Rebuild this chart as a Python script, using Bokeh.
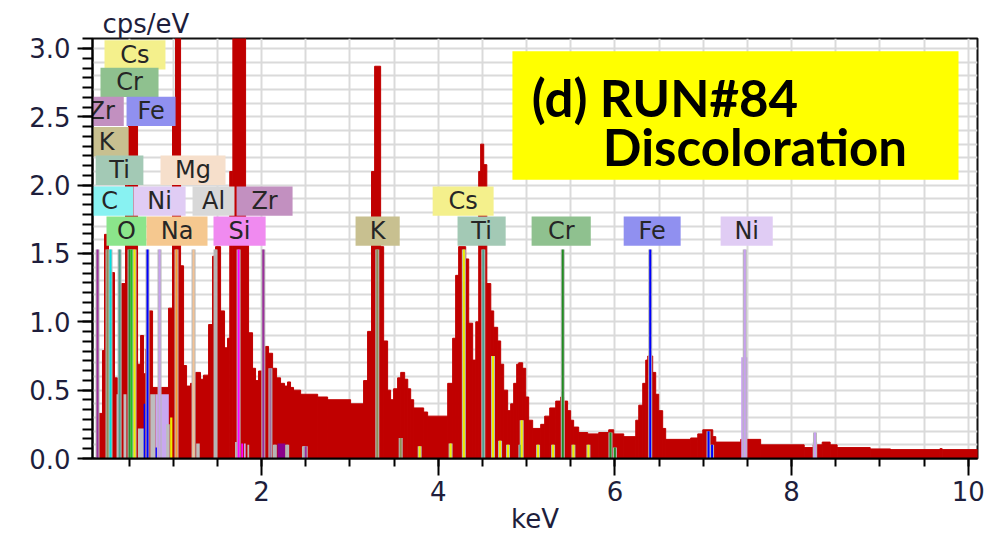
from bokeh.plotting import figure
from bokeh.models import Range1d, SingleIntervalTicker, PrintfTickFormatter
from bokeh.core.properties import value
from bokeh.embed import file_html
from bokeh.resources import INLINE

# ---------------- data ----------------
# EDS spectrum: bin left edges (keV) and intensity (cps/eV)
spec_kev = [0.086, 0.143, 0.199, 0.222, 0.267, 0.301, 0.335, 0.369, 0.414, 0.460,
            0.494, 0.596, 0.630, 0.664, 0.690, 0.720, 0.766, 0.947, 0.992, 1.026,
            1.083, 1.117, 1.151, 1.196, 1.253, 1.309, 1.343, 1.400, 1.445, 1.479,
            1.536, 1.581, 1.615, 1.640, 1.675, 1.819, 1.853, 1.898, 1.932, 1.966,
            2.045, 2.079, 2.125, 2.170, 2.215, 2.260, 2.294, 2.328, 2.362, 2.442,
            2.635, 2.748, 3.008, 3.155, 3.200, 3.245, 3.280, 3.348, 3.382, 3.427,
            3.461, 3.495, 3.540, 3.575, 3.620, 3.655, 3.688, 3.722, 3.835, 3.880,
            4.107, 4.163, 4.197, 4.231, 4.311, 4.345, 4.390, 4.425, 4.458, 4.480,
            4.515, 4.550, 4.595, 4.628, 4.673, 4.707, 4.741, 4.786, 4.820, 4.854,
            4.888, 4.911, 4.956, 4.990, 5.024, 5.069, 5.160, 5.205, 5.262, 5.330,
            5.386, 5.420, 5.465, 5.499, 5.533, 5.590, 5.692, 5.817, 5.930, 5.987,
            6.100, 6.236, 6.270, 6.315, 6.349, 6.372, 6.428, 6.462, 6.496, 6.541,
            6.575, 6.858, 6.938, 6.995, 7.108, 7.142, 7.425, 7.650, 8.143, 8.245,
            8.347, 8.437, 8.516, 8.890, 9.120, 9.680, 9.705]
spec_cps = [0.0, 0.33, 0.79, 1.64, 1.50, 1.36, 0.59, 0.47, 1.28, 2.00,
            2.60, 0.69, 0.90, 0.62, 0.80, 1.08, 0.52, 1.10, 2.50, 3.50,
            1.41, 0.68, 0.53, 0.55, 0.63, 0.58, 0.61, 0.98, 1.48, 1.55,
            1.08, 0.81, 0.88, 2.10, 4.00, 1.60, 0.92, 0.66, 0.57, 0.64,
            0.82, 0.77, 0.66, 0.59, 0.55, 0.53, 0.56, 0.52, 0.50, 0.47,
            0.45, 0.43, 0.40, 0.57, 0.93, 2.10, 2.87, 1.55, 0.86, 0.50,
            0.43, 0.51, 0.59, 0.63, 0.58, 0.51, 0.43, 0.37, 0.34, 0.31,
            0.55, 0.88, 1.34, 1.55, 1.46, 0.99, 0.72, 1.00, 2.10, 2.30,
            2.15, 1.28, 1.08, 0.96, 0.86, 0.69, 0.50, 0.35, 0.40, 0.55,
            0.69, 0.70, 0.66, 0.45, 0.28, 0.22, 0.25, 0.31, 0.37, 0.42,
            0.45, 0.42, 0.35, 0.28, 0.23, 0.19, 0.18, 0.19, 0.21, 0.18,
            0.16, 0.28, 0.39, 0.55, 0.72, 0.75, 0.63, 0.47, 0.35, 0.22,
            0.14, 0.15, 0.18, 0.21, 0.16, 0.12, 0.14, 0.10, 0.08, 0.10,
            0.12, 0.10, 0.08, 0.07, 0.065, 0.072, 0.065]
spec_end_kev = 10.105

# element line markers (full height)
marker_kev = [0.143, 0.256, 0.290, 0.393, 0.505, 0.528, 0.562, 0.709, 0.845, 1.037,
              1.230, 1.479, 1.740, 2.020, 3.310, 4.290, 4.510, 5.410, 6.400, 7.470]
marker_color = ["#9b2f9b", "#8f8f55", "#00e0e0", "#4f9f8c", "#2e8b2e", "#22c322", "#eeee00",
                "#0000ff", "#c8a0f0", "#ff9a30", "#f3c396", "#b4b4b4", "#ff00ff", "#9b2f9b",
                "#8f8f55", "#eeee00", "#4f9f8c", "#228b22", "#0000ff", "#c8a0f0"]
marker_height = 1.53

# minor element lines
minor_kev = [2.100, 2.150, 2.290, 2.480, 2.500, 3.575, 3.790, 4.140, 4.620, 4.700,
             4.790, 4.930, 4.945, 5.130, 5.300, 5.530, 5.700, 5.950, 6.000, 7.060,
             7.100, 8.265]
minor_height = [0.66, 0.10, 0.10, 0.09, 0.09, 0.15, 0.09, 0.11, 0.75, 0.13,
                0.10, 0.10, 0.28, 0.10, 0.10, 0.10, 0.10, 0.19, 0.08, 0.20,
                0.10, 0.19]
minor_color = ["#a070a0", "#b4b4b4", "#b4b4b4", "#b4b4b4", "#9b2f9b", "#8f8f55", "#eeee00",
               "#eeee00", "#eeee00", "#eeee00", "#eeee00", "#4f9f8c", "#eeee00", "#eeee00",
               "#eeee00", "#eeee00", "#eeee00", "#228b22", "#228b22", "#0000ff", "#0000ff",
               "#c8a0f0"]

# fitted peak overlays (low-energy deconvolution blocks)
ov_left = [0.358, 0.437, 0.600, 0.665, 0.740, 0.800, 0.800, 0.920, 0.965, 1.260,
           1.700, 1.770, 1.800, 1.840, 2.180, 7.430, 8.240]
ov_right = [0.403, 0.470, 0.680, 0.685, 0.800, 0.950, 0.815, 0.960, 0.990, 1.300,
            1.720, 1.790, 1.820, 1.860, 2.270, 7.500, 8.290]
ov_top = [0.47, 0.47, 0.22, 0.40, 0.47, 0.47, 0.08, 0.25, 0.30, 0.11,
          0.12, 0.11, 0.11, 0.10, 0.11, 0.74, 0.12]
ov_color = ["#bdbdbd", "#bdbdbd", "#bdbdbd", "#0000ff", "#bdbdbd", "#c8a8f0", "#0000ff",
            "#bdbdbd", "#eeee00", "#bdbdbd", "#bdbdbd", "#ff00ff", "#c8a0f0", "#bdbdbd",
            "#8b008b", "#c8a0f0", "#c8a0f0"]

# element tag boxes
tag_text = ["Cs", "Cr", "Zr", "Fe", "K", "Ti", "Mg", "C", "Ni", "Al", "Zr", "O", "Na", "Si",
            "K", "Cs", "Ti", "Cr", "Fe", "Ni"]
tag_kev = [0.567, 0.505, 0.190, 0.749, 0.245, 0.392, 1.224, 0.279, 0.845, 1.456, 2.034,
           0.471, 1.043, 1.751, 3.314, 4.282, 4.491, 5.392, 6.422, 7.492]
tag_cps = [2.953, 2.752, 2.540, 2.540, 2.318, 2.109, 2.109, 1.883, 1.883, 1.883, 1.883,
           1.664, 1.664, 1.664, 1.664, 1.883, 1.664, 1.664, 1.664, 1.664]
tag_width = [0.69, 0.657, 0.50, 0.555, 0.50, 0.54, 0.736, 0.54, 0.59, 0.475, 0.634,
             0.453, 0.69, 0.59, 0.50, 0.69, 0.545, 0.67, 0.645, 0.59]
tag_color = ["#f4f08c", "#8fc18f", "#c290c0", "#9090f0", "#c8c090", "#a3c9b5", "#f6dfcb",
             "#88f2f2", "#e0ccf4", "#d8d8d8", "#c290c0", "#8be58b", "#f5c88f", "#f08af0",
             "#c8c090", "#f4f08c", "#a3c9b5", "#8fc18f", "#9090f0", "#e0ccf4"]

title_lines = ["(d) RUN#84", "Discoloration"]
title_kev = [5.06, 5.863]
title_cps = [2.641, 2.286]

# ---------------- figure ----------------
p = figure(width=998, height=540, x_range=Range1d(0.086, 10.105), y_range=Range1d(0, 3.073),
           output_backend="svg", toolbar_location=None, title="cps/eV",
           min_border_left=92, min_border_right=21, min_border_top=38, min_border_bottom=82)
p.background_fill_color = "white"
p.border_fill_color = "white"
p.outline_line_color = "#111111"
p.outline_line_width = 2

p.title.align = "left"
p.title.offset = 10
p.title.standoff = 0
p.title.text_font = "DejaVu Sans"
p.title.text_font_size = "26px"
p.title.text_font_style = "normal"
p.title.text_color = "#1e1e3c"

p.xgrid.ticker = SingleIntervalTicker(interval=0.5)
p.ygrid.ticker = SingleIntervalTicker(interval=0.1)
for g in (p.xgrid, p.ygrid):
    g.grid_line_color = "#dadada"
    g.grid_line_width = 2

p.xaxis.ticker = SingleIntervalTicker(interval=2, num_minor_ticks=4)
p.yaxis.ticker = SingleIntervalTicker(interval=0.5, num_minor_ticks=7)
p.yaxis.formatter = PrintfTickFormatter(format="%.1f")
for ax in (p.xaxis, p.yaxis):
    ax.axis_line_color = "black"
    ax.axis_line_width = 2
    ax.major_tick_line_color = "black"
    ax.major_tick_line_width = 2
    ax.minor_tick_line_color = "black"
    ax.minor_tick_line_width = 2
    ax.major_tick_in = 0
    ax.minor_tick_in = 0
    ax.major_label_text_font = "DejaVu Sans"
    ax.major_label_text_font_size = "26px"
    ax.major_label_text_color = "#1e1e3c"
p.xaxis.major_tick_out = 17
p.xaxis.minor_tick_out = 8
p.xaxis.major_label_standoff = 5
p.xaxis.axis_label = "keV"
p.xaxis.axis_label_standoff = 0
p.xaxis.axis_label_text_font = "DejaVu Sans"
p.xaxis.axis_label_text_font_size = "26px"
p.xaxis.axis_label_text_font_style = "normal"
p.xaxis.axis_label_text_color = "#1e1e3c"
p.yaxis.major_tick_out = 15
p.yaxis.minor_tick_out = 10
p.yaxis.major_label_standoff = 7

# spectrum
spec_right = spec_kev[1:] + [spec_end_kev]
p.quad(left=spec_kev, right=spec_right, bottom=0, top=spec_cps,
       fill_color="#c00000", line_color="#c00000", line_width=1)

# overlays
p.quad(left=ov_left, right=ov_right, bottom=0, top=ov_top,
       fill_color=ov_color, line_color=None)

# minor lines
p.segment(x0=minor_kev, y0=0, x1=minor_kev, y1=minor_height,
          line_color="#b8b8b8", line_width=4)
p.segment(x0=minor_kev, y0=0, x1=minor_kev, y1=minor_height,
          line_color=minor_color, line_width=2)

# main marker lines
p.segment(x0=marker_kev, y0=0, x1=marker_kev, y1=marker_height,
          line_color="#b8b8b8", line_width=4)
p.segment(x0=marker_kev, y0=0, x1=marker_kev, y1=marker_height,
          line_color=marker_color, line_width=2)

# tag boxes
p.rect(x=tag_kev, y=tag_cps, width=tag_width, height=0.215,
       fill_color=tag_color, line_color=None)
p.text(x=tag_kev, y=tag_cps, text=tag_text, text_align="center", text_baseline="middle",
       text_font=value("DejaVu Sans"), text_font_size="24px", text_color="#262626")

# title box
p.quad(left=[4.84], right=[9.89], bottom=[2.04], top=[2.98],
       fill_color="#ffff00", line_color=None)
p.text(x=title_kev, y=title_cps, text=title_lines,
       text_align="left", text_baseline="middle",
       text_font=value("Lato"), text_font_style="bold", text_font_size="51px",
       text_color="black")

open("out.html", "w").write(file_html(p, INLINE))
